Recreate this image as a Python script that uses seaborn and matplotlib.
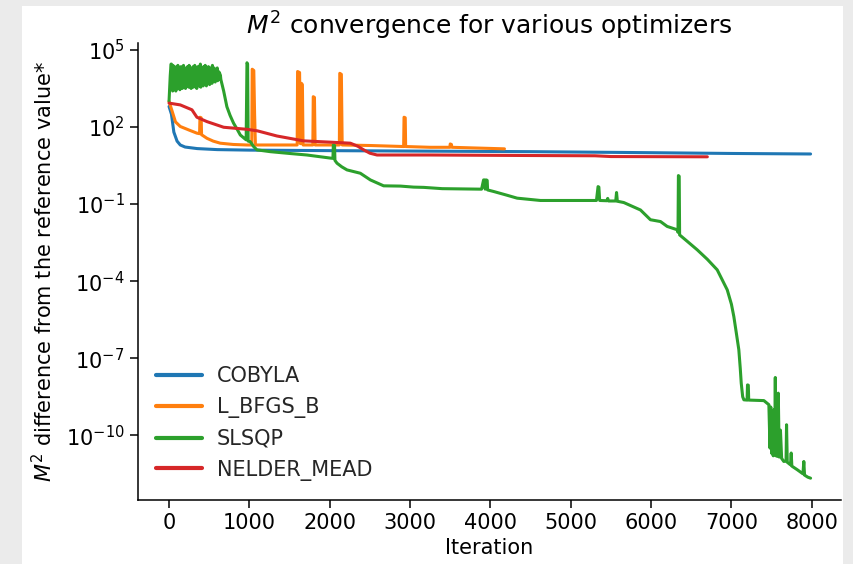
import numpy as np
import pandas as pd
import matplotlib
matplotlib.use("Agg")
import matplotlib.pyplot as plt
import seaborn as sns
from matplotlib.patches import Rectangle
from matplotlib.ticker import NullLocator

sns.set_theme(style="ticks", context="notebook")
plt.rcParams['font.family'] = ['DejaVu Sans']
plt.rcParams['mathtext.fontset'] = 'dejavusans'
plt.rcParams['path.simplify'] = False

# ---- data (iteration, log10 of M^2 difference) ----
cobyla_iter = [0, 30, 60, 100, 140, 200, 350, 600, 1000, 2000, 3250, 4500, 6000, 7000, 7985]
cobyla_log = [2.8, 2.5, 1.8, 1.45, 1.30, 1.22, 1.16, 1.12, 1.10, 1.08, 1.06, 1.04, 1.0, 0.97, 0.95]

lbfgsb_iter = [0, 40, 80, 140, 250, 347, 380, 385, 400, 405, 472, 550, 638, 800, 970,
               1030, 1035, 1055, 1065, 1075, 1300, 1595, 1600, 1625, 1635, 1648, 1660, 1668,
               1790, 1795, 1810, 1818, 2120, 2125, 2145, 2155, 2500, 2920, 2925, 2940, 2945,
               3250, 3495, 3500, 3515, 3520, 4175]
lbfgsb_log = [3.0, 2.6, 2.2, 2.02, 1.88, 1.76, 1.74, 2.38, 2.36, 1.70, 1.56, 1.45, 1.37, 1.32, 1.30,
              1.30, 4.25, 4.2, 2.5, 1.30, 1.30, 1.30, 4.16, 4.12, 1.35, 3.70, 3.65, 1.30,
              1.30, 3.18, 3.15, 1.30, 1.30, 4.09, 4.05, 1.30, 1.28, 1.24, 2.38, 2.36, 1.24,
              1.21, 1.21, 1.34, 1.32, 1.21, 1.15]

# SLSQP: noisy plateau (iterations 30..645), alternating high / low readings
slsqp_plateau_iter = list(range(30, 650, 10))
slsqp_plateau_top = [4.45, 4.3, 4.4, 4.2, 4.35, 4.1, 4.3, 4.25, 4.4, 4.15, 4.3, 4.2, 4.35, 4.05, 4.3, 4.4,
                     4.2, 4.1, 4.3, 4.25, 4.35, 4.15, 4.4, 4.2, 4.3, 4.05, 4.25, 4.35, 4.2, 4.4, 4.1, 4.3,
                     4.25, 4.35, 4.15, 4.3, 4.45, 4.2, 4.3, 4.1, 4.35, 4.25, 4.4, 4.15, 4.3, 4.2, 4.35, 4.1,
                     4.25, 4.3, 4.2, 4.4, 4.15, 4.3, 4.25, 4.1, 4.2, 4.3, 4.05, 4.15, 4.1, 4.0]
slsqp_plateau_bottom = [3.5, 3.4, 3.6, 3.45, 3.7, 3.4, 3.55, 3.8, 3.5, 3.65, 3.45, 3.9, 3.6, 3.5, 3.75, 3.55,
                        3.65, 3.5, 3.8, 3.6, 3.7, 3.55, 3.85, 3.6, 3.5, 3.75, 3.65, 3.55, 3.8, 3.6, 3.7, 3.5,
                        3.85, 3.65, 3.6, 3.75, 3.55, 3.9, 3.7, 3.6, 3.8, 3.65, 3.75, 3.6, 3.85, 3.7, 3.8, 3.65,
                        3.9, 3.75, 3.7, 3.85, 3.8, 3.9, 3.75, 3.85, 3.9, 3.8, 3.95, 3.85, 3.9, 3.85]

slsqp_head_iter = [0, 15, 25]
slsqp_head_log = [3.0, 4.0, 4.45]
slsqp_tail_iter = [
    680, 720, 760, 803, 850, 887, 940, 960, 970, 978, 985, 1011, 1050, 1094, 1260, 1500, 1717,
    2008, 2040, 2045, 2060, 2065, 2091, 2150, 2215, 2381, 2506, 2671, 2880, 3045, 3170, 3400,
    3890, 3915, 3930, 3935, 3950, 3960, 3965, 4040, 4200, 4333, 4623, 5320, 5340, 5350, 5360,
    5450, 5460, 5470, 5560, 5570, 5580, 5660, 5868, 5992, 6117, 6200, 6325, 6335, 6340, 6350,
    6355, 6450, 6574, 6700, 6823, 6948, 7000, 7030, 7060, 7092, 7110, 7122, 7140, 7155, 7195,
    7200, 7210, 7215, 7404, 7466, 7480, 7490, 7500, 7510, 7520, 7530, 7540, 7546, 7552, 7560,
    7570, 7583, 7595, 7610, 7625, 7652, 7680, 7686, 7695, 7735, 7744, 7752, 7819, 7890, 7901,
    7910, 7950, 7985]
slsqp_tail_log = [
    3.4, 2.79, 2.45, 2.15, 1.9, 1.69, 1.55, 1.50, 4.5, 4.45, 1.45, 1.43, 1.25, 1.11, 1.04, 0.97, 0.91,
    0.79, 0.78, 1.30, 1.28, 0.7, 0.59, 0.45, 0.33, 0.20, -0.06, -0.29, -0.30, -0.34, -0.35, -0.40,
    -0.42, -0.06, -0.06, -0.42, -0.06, -0.08, -0.45, -0.51, -0.65, -0.77, -0.86, -0.86, -0.32, -0.34, -0.86,
    -0.87, -0.78, -0.88, -0.88, -0.55, -0.89, -0.94, -1.23, -1.61, -1.68, -1.87, -2.0, -2.1, 0.11, 0.08,
    -2.2, -2.45, -2.78, -3.15, -3.56, -4.34, -4.9, -5.38, -6.0, -6.67, -7.4, -7.97, -8.5, -8.62, -8.63,
    -8.04, -8.05, -8.63, -8.65, -8.81, -10.5, -8.9, -10.7, -9.2, -10.8, -9.0, -10.6, -7.75, -10.8, -9.5,
    -10.82, -8.36, -10.85, -9.8, -10.9, -11.02, -11.0, -9.59, -11.05, -11.15, -10.69, -11.2, -11.34, -11.5, -11.02,
    -11.55, -11.63, -11.67]

nelder_iter = [0, 140, 285, 347, 472, 680, 970, 1100, 1343, 1675, 2008, 2257, 2350, 2423, 2500,
               2589, 3253, 4500, 5300, 5500, 6700]
nelder_log = [2.93, 2.86, 2.67, 2.38, 2.21, 1.99, 1.91, 1.85, 1.65, 1.46, 1.41, 1.37, 1.25, 1.11, 0.98,
              0.91, 0.91, 0.89, 0.88, 0.85, 0.84]

names = ["COBYLA", "L_BFGS_B", "SLSQP", "NELDER_MEAD"]
colors = ["#1f77b4", "#ff7f0e", "#2ca02c", "#d62728"]

# assemble the SLSQP series: head, plateau (high/low pairs, 5 iterations apart), tail
plateau_iter, plateau_log = [], []
for it, hi, lo in zip(slsqp_plateau_iter, slsqp_plateau_top, slsqp_plateau_bottom):
    plateau_iter += [it, it + 5]
    plateau_log += [hi, lo]
slsqp_iter = slsqp_head_iter + plateau_iter + slsqp_tail_iter
slsqp_log = slsqp_head_log + plateau_log + slsqp_tail_log

frames = []
for name, it, lg in zip(names,
                        [cobyla_iter, lbfgsb_iter, slsqp_iter, nelder_iter],
                        [cobyla_log, lbfgsb_log, slsqp_log, nelder_log]):
    assert len(it) == len(lg), name
    frames.append(pd.DataFrame({"Iteration": it, "value": 10.0 ** np.array(lg), "optimizer": name}))
df = pd.concat(frames, ignore_index=True)

W, H = 854, 564
fig = plt.figure(figsize=(W / 100, H / 100), dpi=100, facecolor="#ebebeb")
fig.patches.append(Rectangle((22 / W, 0), (843 - 22) / W, (H - 6) / H,
                             transform=fig.transFigure, facecolor="white",
                             edgecolor="none", zorder=-10))
left, right, top, bottom = 137.7, 841.5, 43, 499.5
ax = fig.add_axes([left / W, (H - bottom) / H, (right - left) / W, (bottom - top) / H])
ax.set_facecolor("white")

sns.lineplot(data=df, x="Iteration", y="value", hue="optimizer", hue_order=names,
             palette=colors, estimator=None, sort=False, linewidth=2.2, ax=ax)

ax.set_yscale("log")
ax.set_ylim(10 ** -12.5, 10 ** 5.27)
ax.set_xlim(-390, 8370)
ax.set_yticks([1e5, 1e2, 1e-1, 1e-4, 1e-7, 1e-10])
ax.yaxis.set_minor_locator(NullLocator())
ax.set_xticks(range(0, 8001, 1000))

sns.despine(ax=ax)
for s in ["left", "bottom"]:
    ax.spines[s].set_linewidth(1.1)
    ax.spines[s].set_color("black")
ax.tick_params(axis="both", which="major", labelsize=15, length=6, width=1.1,
               color="black", labelcolor="black", direction="out")

ax.set_xlabel("Iteration", fontsize=15, color="black")
ax.set_ylabel(r"$M^2$ difference from the reference value*", fontsize=15, color="black",
              labelpad=7)
ax.set_title(r"$M^2$ convergence for various optimizers", fontsize=18, color="black")

leg = ax.legend(loc="lower left", frameon=False, fontsize=15, handlelength=2.2,
                handletextpad=0.7, labelspacing=0.52)
for line in leg.get_lines():
    line.set_linewidth(3)

fig.savefig("out.png", dpi=100, facecolor=fig.get_facecolor())
